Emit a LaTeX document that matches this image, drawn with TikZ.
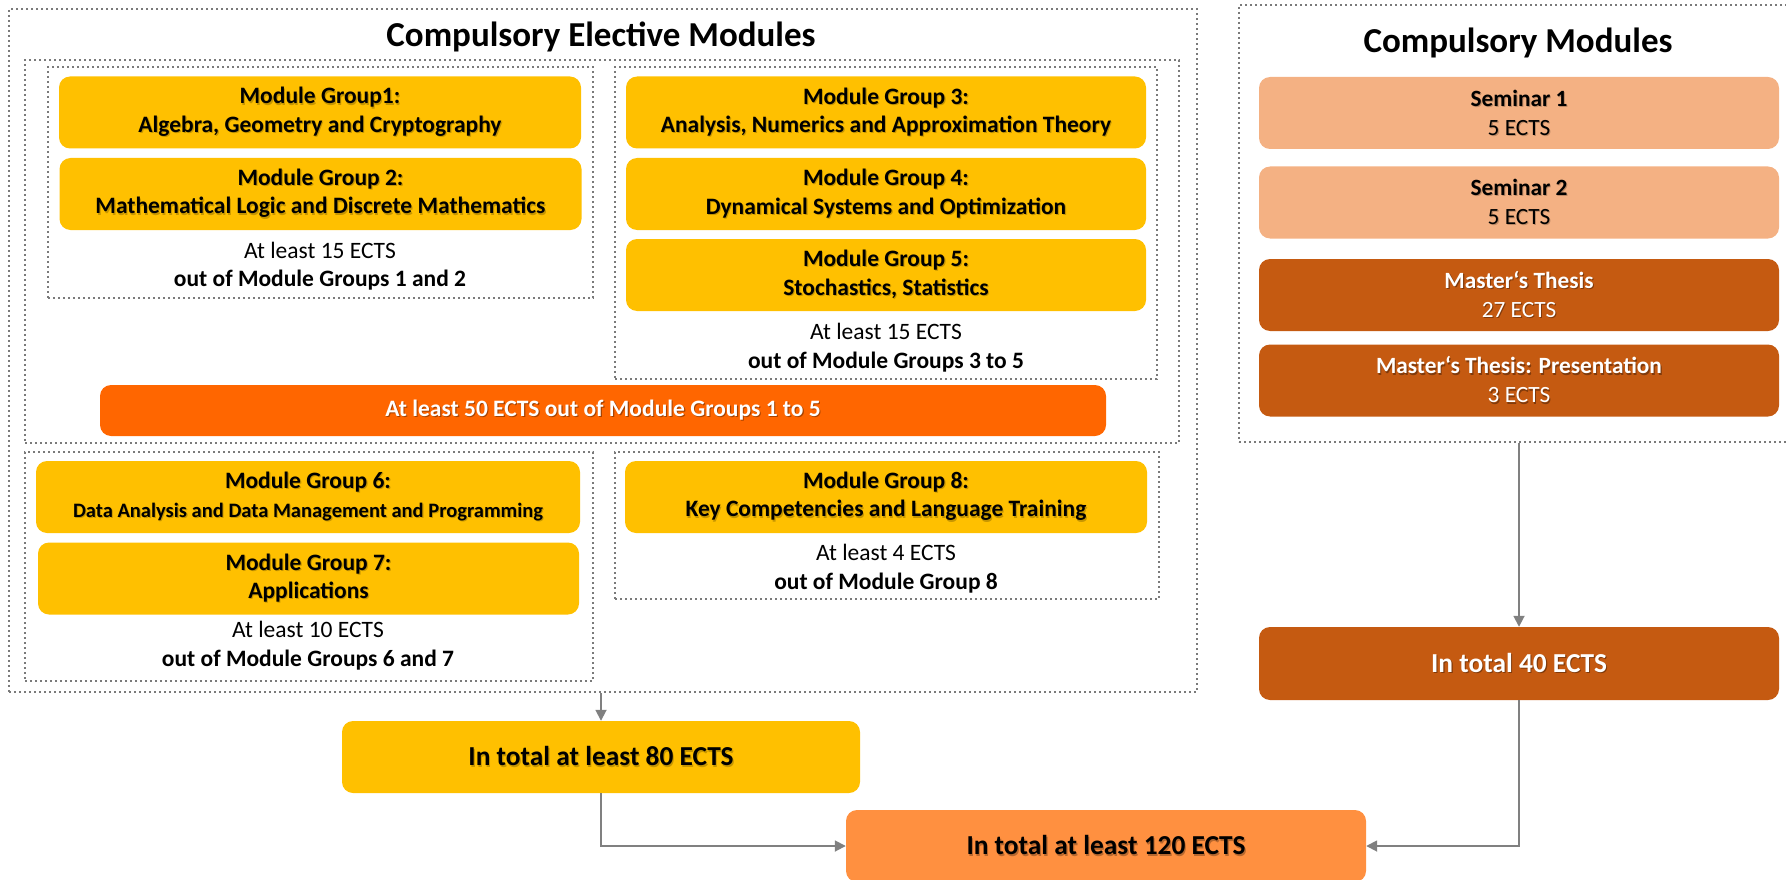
\documentclass[tikz,border=0pt]{standalone}
\usepackage{fontspec}
\setmainfont{Carlito}
\usetikzlibrary{arrows.meta,calc}
\definecolor{gold}{HTML}{FFC000}
\definecolor{barorange}{HTML}{FF6600}
\definecolor{semcol}{HTML}{F4B183}
\definecolor{thesiscol}{HTML}{C55A11}
\definecolor{totcol}{HTML}{FF9040}
\definecolor{dotgray}{HTML}{7A7A7A}
\definecolor{arrgray}{HTML}{808080}
\colorlet{shcol}{gray}
\newcommand\shd[1]{\leavevmode\rlap{\kern1.1pt\raisebox{-1.1pt}{\textcolor{shcol}{#1}}}#1}
\begin{document}
\begin{tikzpicture}[x=1pt,y=-1pt,
  grp/.style={draw=dotgray, line width=2.4pt, dash pattern=on 2.4pt off 2.6pt, rectangle, inner sep=0pt},
  modbox/.style={rectangle, rounded corners=11pt, fill=gold, inner sep=0pt, align=center,
     font=\bfseries\fontsize{23.5}{28.5}\selectfont, minimum width=522pt, minimum height=72pt,
     execute at begin node={\colorlet{shcol}{gold!78!black}}},
  sembox/.style={modbox, fill=semcol, font=\fontsize{23.3}{29}\selectfont, minimum width=520pt,
     execute at begin node={\colorlet{shcol}{semcol!78!black}}},
  thesisbox/.style={modbox, fill=thesiscol, text=white, font=\fontsize{23.3}{29}\selectfont, minimum width=520pt,
     execute at begin node={\colorlet{shcol}{thesiscol!65!black}}},
  note/.style={align=center, inner sep=0pt, font=\fontsize{23.5}{28.5}\selectfont},
  ttl/.style={inner sep=0pt, font=\bfseries\fontsize{35}{40}\selectfont},
  totbox/.style={modbox, minimum width=520pt, minimum height=72pt, font=\bfseries\fontsize{27.4}{32}\selectfont},
  conn/.style={draw=arrgray, line width=1.8pt, -{Triangle[length=11pt,width=11pt]}}
]
\useasboundingbox (0,0) rectangle (1786,880);

% group frames
\node[grp, minimum width=1188pt, minimum height=683pt] (elect) at (603,350.5) {};
\node[grp, minimum width=1154pt, minimum height=383pt] (g15) at (602,251.5) {};
\node[grp, minimum width=545pt, minimum height=231pt] (g12) at (320.5,182.5) {};
\node[grp, minimum width=542pt, minimum height=312pt] (g35) at (886,223) {};
\node[grp, minimum width=568pt, minimum height=229pt] (g67) at (309,566.5) {};
\node[grp, minimum width=544pt, minimum height=147pt] (g8) at (887,525.5) {};
\node[grp, minimum width=553pt, minimum height=437pt] (comp) at (1515.5,223.5) {};

% titles
\node[ttl] (t1) at (601,37) {Compulsory Elective Modules};
\node[ttl] (t2) at (1518,43) {Compulsory Modules};

% module groups
\node[modbox] (mg1) at (320,112.5) {\shd{Module Group1:}\\\shd{Algebra, Geometry and Cryptography}};
\node[modbox] (mg2) at (320.5,194) {\shd{Module Group 2:}\\\shd{Mathematical Logic and Discrete Mathematics}};
\node[note] (n12) at (320,266) {At least 15 ECTS\\\textbf{out of Module Groups 1 and 2}};

\node[modbox, minimum width=520pt] (mg3) at (886,112.5) {\shd{Module Group 3:}\\\shd{Analysis, Numerics and Approximation Theory}};
\node[modbox, minimum width=520pt] (mg4) at (886,194) {\shd{Module Group 4:}\\\shd{Dynamical Systems and Optimization}};
\node[modbox, minimum width=520pt] (mg5) at (886,275) {\shd{Module Group 5:}\\\shd{Stochastics, Statistics}};
\node[note] (n35) at (886,347.5) {At least 15 ECTS\\\textbf{out of Module Groups 3 to 5}};

\node[modbox, fill=barorange, text=white, minimum width=1006pt, minimum height=51pt,
  execute at begin node={\colorlet{shcol}{barorange!65!black}}] (bar) at (603,410.5) {\shd{At least 50 ECTS out of Module Groups 1 to 5}};

\node[modbox, minimum width=544pt] (mg6) at (308,497) {\shd{Module Group 6:}\\{\fontsize{20.5}{25}\selectfont\shd{Data Analysis and Data Management and Programming}}};
\node[modbox, minimum width=541pt] (mg7) at (308.5,578.5) {\shd{Module Group 7:}\\\shd{Applications}};
\node[note] (n67) at (308,645.5) {At least 10 ECTS\\\textbf{out of Module Groups 6 and 7}};

\node[modbox] (mg8) at (886,497) {\shd{Module Group 8:}\\\shd{Key Competencies and Language Training}};
\node[note] (n8) at (886,568.5) {At least 4 ECTS\\\textbf{out of Module Group 8}};

% compulsory
\node[sembox] (s1) at (1519,113) {\shd{\textbf{Seminar 1}}\\\shd{5 ECTS}};
\node[sembox] (s2) at (1519,202.5) {\shd{\textbf{Seminar 2}}\\\shd{5 ECTS}};
\node[thesisbox] (mt) at (1519,295) {\shd{\textbf{Master‘s Thesis}}\\\shd{27 ECTS}};
\node[thesisbox] (mtp) at (1519,380.5) {\shd{\textbf{Master‘s Thesis: Presentation}}\\\shd{3 ECTS}};

% totals
\node[totbox, fill=thesiscol, text=white, minimum height=73pt,
  execute at begin node={\colorlet{shcol}{thesiscol!65!black}}] (tot40) at (1519,663.5) {\shd{In total 40 ECTS}};
\node[totbox, minimum width=518pt] (tot80) at (601,757) {\shd{In total at least 80 ECTS}};
\node[totbox, fill=totcol,
  execute at begin node={\colorlet{shcol}{totcol!72!black}}] (tot120) at (1106,846) {\shd{In total at least 120 ECTS}};

% connectors
\draw[conn] (elect.south -| tot80.north) -- (tot80.north);
\draw[conn] (comp.south -| tot40.north) -- (tot40.north);
\draw[conn] (tot80.south) |- (tot120.west);
\draw[conn] (tot40.south) |- (tot120.east);
\end{tikzpicture}
\end{document}
